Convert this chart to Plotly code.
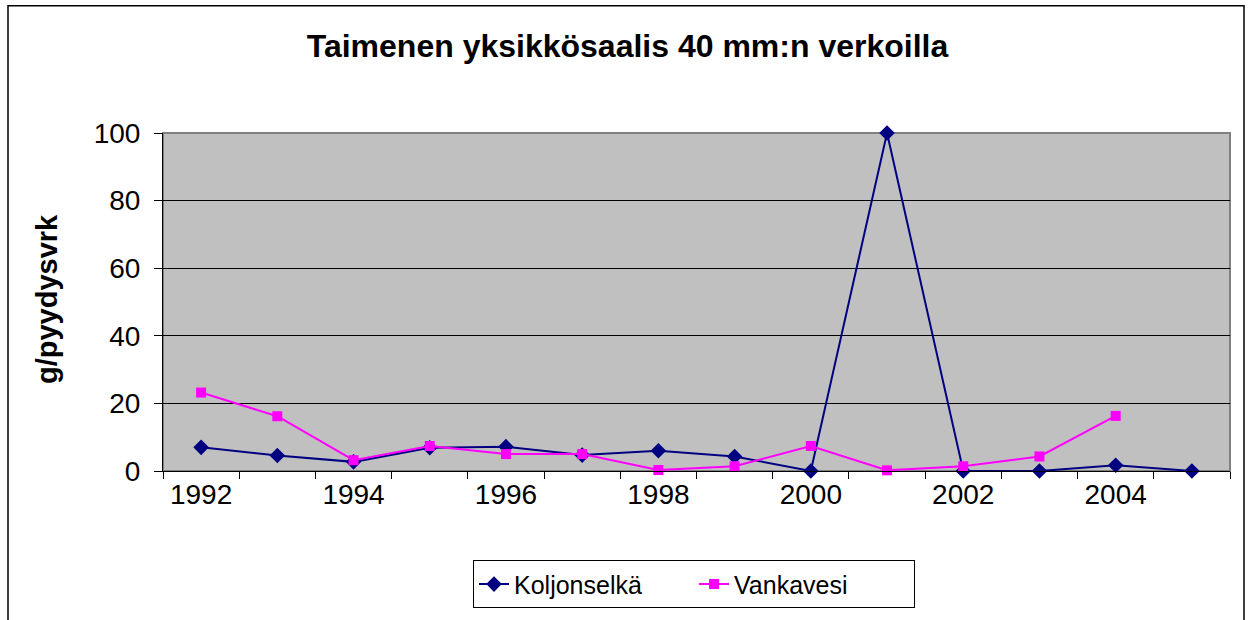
import plotly.graph_objects as go

vuodet = list(range(1992, 2006))
koljonselka = [7.0, 4.6, 2.7, 6.9, 7.2, 4.7, 6.0, 4.3, 0.0, 100.0, 0.0, 0.0, 1.7, 0.0]
vankavesi = [23.2, 16.2, 3.2, 7.4, 5.0, 5.0, 0.3, 1.4, 7.4, 0.2, 1.4, 4.3, 16.3, None]
x_tekstit = [1992, 1994, 1996, 1998, 2000, 2002, 2004]
y_tekstit = [0, 20, 40, 60, 80, 100]

# plot area in pixels (from the reference)
L, R, T, B = 163, 1230, 133, 473
W, H = 1250, 620
pw, ph = R - L, B - T


def px_x(v):
    return (v - L) / pw


def px_y(v):
    return (B - v) / ph


fig = go.Figure()
fig.add_trace(go.Scatter(
    name='Koljonselkä', x=vuodet, y=koljonselka, mode='lines+markers',
    line=dict(color='#000080', width=2),
    marker=dict(symbol='diamond', size=12, color='#000080'),
    cliponaxis=False,
))
fig.add_trace(go.Scatter(
    name='Vankavesi', x=vuodet, y=vankavesi, mode='lines+markers',
    line=dict(color='#FF00FF', width=2),
    marker=dict(symbol='square', size=10, color='#FF00FF'),
    cliponaxis=False,
))

fig.update_layout(
    width=W, height=H,
    margin=dict(l=L, r=W - R, t=T, b=H - B),
    paper_bgcolor='white',
    plot_bgcolor='#C0C0C0',
    font=dict(family='Liberation Sans, Arial, sans-serif', size=28, color='black'),
    title=dict(
        text='<b>Taimenen yksikkösaalis 40 mm:n verkoilla</b>',
        x=0.502, xref='container', xanchor='center',
        y=1 - 46 / H, yref='container', yanchor='middle',
        font=dict(size=32),
    ),
    showlegend=True,
    legend=dict(
        orientation='h', x=px_x(694), y=px_y(587), xanchor='center', yanchor='middle',
        bordercolor='black', borderwidth=1, bgcolor='white',
        font=dict(size=25), tracegroupgap=0, entrywidth=175,
    ),
    xaxis=dict(
        range=[1991.5, 2005.5], tickvals=x_tekstit, ticktext=[str(v) for v in x_tekstit],
        ticks='', showgrid=False, zeroline=False, ticklabelstandoff=-2,
        showline=True, linecolor='black', linewidth=1,
        minor=dict(ticks='outside', tick0=1991.5, dtick=1, ticklen=7, tickcolor='black', showgrid=False),
    ),
    yaxis=dict(
        range=[0, 100], tickvals=y_tekstit, ticks='outside', ticklen=8, tickcolor='black',
        showgrid=True, gridcolor='black', gridwidth=1, zeroline=False, ticklabelstandoff=8,
        showline=True, linecolor='black', linewidth=1,
    ),
    annotations=[dict(
        text='<b>g/pyydysvrk</b>', textangle=-90, showarrow=False,
        xref='paper', yref='paper', x=px_x(47), y=px_y(300),
        xanchor='center', yanchor='middle', font=dict(size=29),
    )],
    shapes=[
        dict(type='rect', xref='paper', yref='paper', x0=0, x1=1, y0=0, y1=1,
             line=dict(color='#808080', width=2), layer='below'),
        dict(type='rect', xref='paper', yref='paper',
             x0=px_x(8), x1=px_x(1244), y0=px_y(640), y1=px_y(5),
             line=dict(color='black', width=1.5)),
    ],
)

fig.write_html('out.html', config={'displayModeBar': False},
               post_script="document.body.style.margin='0';")
